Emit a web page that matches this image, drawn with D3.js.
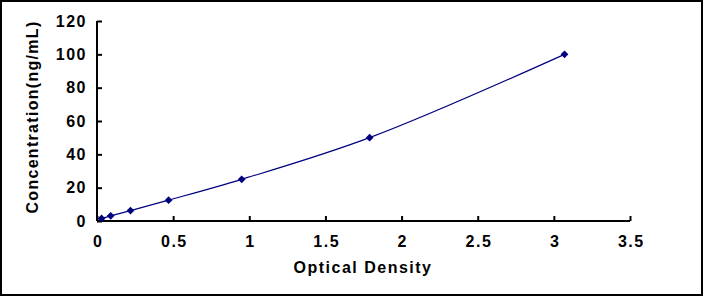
<!DOCTYPE html>
<html><head><meta charset="utf-8">
<script src="https://cdn.jsdelivr.net/npm/d3@7"></script>
<style>body{margin:0;background:#fff}svg{display:block}</style>
</head><body>
<svg id="c" width="704" height="297"></svg>
<script>
const odValues = [0.03, 0.09, 0.22, 0.47, 0.95, 1.79, 3.07];
const concValues = [1.56, 3.12, 6.25, 12.5, 25, 50, 100];
const xTicks = [0, 0.5, 1, 1.5, 2, 2.5, 3, 3.5];
const yTicks = [0, 20, 40, 60, 80, 100, 120];

const svg = d3.select("#c");
svg.append("rect").attr("x",1).attr("y",1).attr("width",701).attr("height",294)
  .attr("fill","#fff").attr("stroke","#000").attr("stroke-width",2);

const x = d3.scaleLinear().domain([0,3.5]).range([97,630]);
const y = d3.scaleLinear().domain([0,120]).range([221,21]);
const font = "'Liberation Sans', Arial, sans-serif";

const xa = svg.append("g").attr("transform","translate(0,221)")
  .call(d3.axisBottom(x).tickValues(xTicks).tickSize(-5).tickPadding(12).tickFormat(d3.format("")));
const ya = svg.append("g").attr("transform","translate(97,0)")
  .call(d3.axisLeft(y).tickValues(yTicks).tickSize(-5).tickPadding(10));
[xa, ya].forEach(a => {
  a.select(".domain").attr("stroke","#000").attr("stroke-width",2);
  a.selectAll(".tick line").attr("stroke","#000").attr("stroke-width",2);
  a.selectAll("text").attr("fill","#000").style("font-family",font).style("font-weight","bold")
    .style("font-size","16px").style("letter-spacing","1.5px");
});
ya.select(".domain").attr("d","M0,221V21H0");
xa.select(".domain").attr("d","M0,0H533V0").attr("transform","translate(97,0)");
xa.selectAll(".tick text").attr("dy","0.9em").attr("dx","0.75");

const pts = odValues.map((d,i)=>[d, concValues[i]]);
svg.append("path").datum(pts)
  .attr("d", d3.line().x(d=>x(d[0])).y(d=>y(d[1])).curve(d3.curveCatmullRom.alpha(0.5)))
  .attr("fill","none").attr("stroke","#000080").attr("stroke-width",1.2);
svg.selectAll(".pt").data(pts).enter().append("path")
  .attr("transform", d=>`translate(${x(d[0])},${y(d[1])}) rotate(45)`)
  .attr("d", d3.symbol(d3.symbolSquare, 30)())
  .attr("fill","#000080");

svg.append("text").attr("x",363).attr("y",273).attr("text-anchor","middle")
  .style("font-family",font).style("font-weight","bold").style("font-size","16px").style("letter-spacing","1.5px")
  .text("Optical Density");
svg.append("text").attr("transform","translate(38,117) rotate(-90)").attr("text-anchor","middle")
  .style("font-family",font).style("font-weight","bold").style("font-size","16px").style("letter-spacing","1.3px")
  .text("Concentration(ng/mL)");
</script>
</body></html>
